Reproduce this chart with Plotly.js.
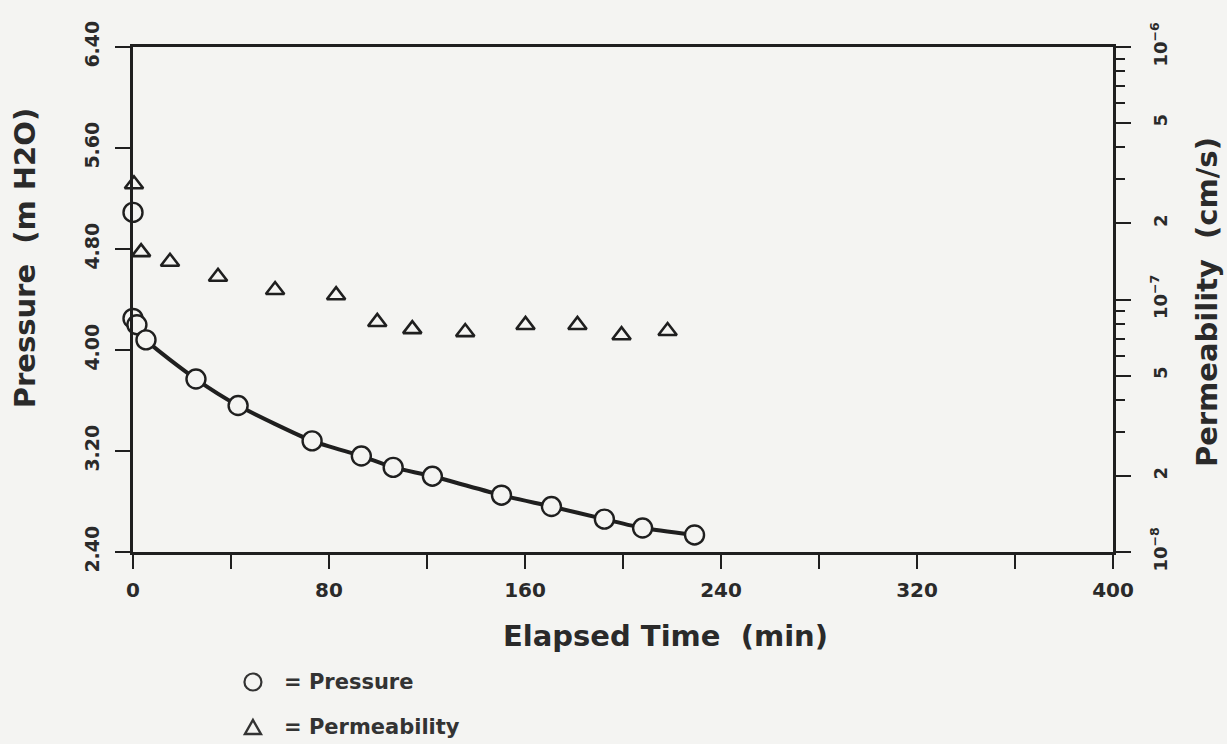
<!DOCTYPE html>
<html>
<head>
<meta charset="utf-8">
<script src="https://cdn.plot.ly/plotly-3.0.1.min.js"></script>
<style>html,body{margin:0;padding:0;background:#f4f4f2;}#chart{width:1227px;height:744px;}</style>
</head>
<body>
<div id="chart"></div>
<script>
// Elapsed time (min) and pressure (m H2O)
const pressureTime = [0, 0, 1.6, 5.3, 25.7, 42.9, 73.1, 93.2, 106.2, 122.2, 150.4, 170.8, 192.4, 208.0, 229.2];
const pressure     = [5.09, 4.25, 4.20, 4.08, 3.77, 3.56, 3.28, 3.16, 3.07, 3.00, 2.85, 2.76, 2.66, 2.59, 2.535];
// Elapsed time (min) and permeability (cm/s)
const permTime = [0.4, 3.3, 15.1, 34.7, 58.0, 82.9, 99.7, 114.0, 135.6, 160.2, 181.4, 199.4, 218.2];
const perm     = [2.86e-7, 1.54e-7, 1.41e-7, 1.23e-7, 1.09e-7, 1.04e-7, 8.15e-8, 7.63e-8, 7.43e-8, 7.93e-8, 7.93e-8, 7.22e-8, 7.50e-8];
// Right axis tick values / labels
const permTickVals = [1e-8, 2e-8, 5e-8, 1e-7, 2e-7, 5e-7, 1e-6];
const permTickText = ['10<sup>\u22128</sup>', '2', '5', '10<sup>\u22127</sup>', '2', '5', '10<sup>\u22126</sup>'];
const permMinorVals = [3e-8, 4e-8, 6e-8, 7e-8, 8e-8, 9e-8, 3e-7, 4e-7, 6e-7, 7e-7, 8e-7, 9e-7];
// Legend labels
const legendLabels = ['= Pressure', '= Permeability'];

const ink = '#1f1f1f';
const txt = '#2a2a2a';
const BG = '#f4f4f2';
const FONT = 'DejaVu Sans, Liberation Sans, sans-serif';

const traces = [
  { // fitted curve through the pressure points (excluding the first reading)
    x: pressureTime.slice(1), y: pressure.slice(1),
    type: 'scatter', mode: 'lines', yaxis: 'y',
    line: {color: ink, width: 4, shape: 'spline', smoothing: 0.6},
    showlegend: false, hoverinfo: 'skip', cliponaxis: false
  },
  {
    x: pressureTime, y: pressure, name: legendLabels[0],
    type: 'scatter', mode: 'markers', yaxis: 'y', showlegend: false,
    marker: {symbol: 'circle', size: 19, color: BG, line: {color: ink, width: 2.4}},
    cliponaxis: false
  },
  {
    x: permTime, y: perm, name: legendLabels[1],
    type: 'scatter', mode: 'markers', yaxis: 'y2', showlegend: false,
    marker: {symbol: 'triangle-up', size: 16, color: 'rgba(0,0,0,0)', line: {color: ink, width: 2.6}},
    cliponaxis: false
  }
];

// legend placement (paper coords)
const legX = 0.1224, legTextX = 0.152, legY1 = -0.2574, legY2 = -0.3465;
const rx = 8.5 / 980, ry = 8.5 / 505, tx = 8 / 980, ty = 7 / 505;

const layout = {
  width: 1227, height: 744,
  margin: {l: 133, r: 114, t: 47, b: 192},
  paper_bgcolor: BG, plot_bgcolor: BG,
  font: {family: FONT, color: ink, weight: 'bold'},
  showlegend: false,
  xaxis: {
    range: [0, 400], dtick: 80, tick0: 0,
    showline: true, linecolor: ink, linewidth: 3, mirror: true,
    ticks: 'outside', ticklen: 14, tickwidth: 2, tickcolor: ink,
    minor: {dtick: 40, tick0: 0, ticks: 'outside', ticklen: 14, tickwidth: 2, tickcolor: ink},
    showgrid: false, zeroline: false,
    tickfont: {size: 20, family: FONT, color: txt, weight: 'bold'},
    ticklabelstandoff: 4
  },
  yaxis: {
    range: [2.4, 6.4], dtick: 0.8, tick0: 2.4, tickformat: '.2f',
    showline: true, linecolor: ink, linewidth: 3,
    ticks: 'outside', ticklen: 15, tickwidth: 2, tickcolor: ink,
    showgrid: false, zeroline: false, tickangle: -90,
    tickfont: {size: 19, family: FONT, color: txt, weight: 'bold'},
    ticklabelstandoff: 8
  },
  yaxis2: {
    type: 'log', range: [-8, -6], overlaying: 'y', side: 'right',
    showline: true, linecolor: ink, linewidth: 3,
    tickmode: 'array', tickvals: permTickVals, ticktext: permTickText,
    ticks: 'outside', ticklen: 15, tickwidth: 2, tickcolor: ink,
    minor: {tickmode: 'array', tickvals: permMinorVals, ticks: 'outside', ticklen: 9, tickwidth: 2, tickcolor: ink},
    showgrid: false, zeroline: false, tickangle: -90,
    tickfont: {size: 18, family: FONT, color: txt, weight: 'bold'},
    ticklabelstandoff: 14
  },
  shapes: [
    {type: 'circle', xref: 'paper', yref: 'paper',
     x0: legX - rx, x1: legX + rx, y0: legY1 - ry, y1: legY1 + ry,
     line: {color: '#333', width: 2.2}, fillcolor: 'rgba(0,0,0,0)'},
    {type: 'path', xref: 'paper', yref: 'paper',
     path: 'M ' + (legX - tx) + ',' + (legY2 - ty) + ' L ' + (legX + tx) + ',' + (legY2 - ty) +
           ' L ' + legX + ',' + (legY2 + ty) + ' Z',
     line: {color: '#333', width: 2.4}, fillcolor: 'rgba(0,0,0,0)'}
  ],
  annotations: [
    {text: legendLabels[0], xref: 'paper', yref: 'paper', x: legTextX, y: legY1,
     xanchor: 'left', yanchor: 'middle', showarrow: false,
     font: {size: 21, family: FONT, color: '#333', weight: 'bold'}},
    {text: legendLabels[1], xref: 'paper', yref: 'paper', x: legTextX, y: legY2,
     xanchor: 'left', yanchor: 'middle', showarrow: false,
     font: {size: 21, family: FONT, color: '#333', weight: 'bold'}},
    {text: 'Elapsed Time\u00a0\u00a0(min)', xref: 'paper', yref: 'paper', x: 0.543, y: -0.166,
     xanchor: 'center', yanchor: 'middle', showarrow: false,
     font: {size: 29, family: FONT, color: txt, weight: 'bold'}},
    {text: 'Pressure\u00a0\u00a0(m H2O)', xref: 'paper', yref: 'paper', x: -0.110, y: 0.582,
     xanchor: 'center', yanchor: 'middle', showarrow: false, textangle: -90,
     font: {size: 29, family: FONT, color: txt, weight: 'bold'}},
    {text: 'Permeability\u00a0\u00a0(cm/s)', xref: 'paper', yref: 'paper', x: 1.096, y: 0.495,
     xanchor: 'center', yanchor: 'middle', showarrow: false, textangle: -90,
     font: {size: 29, family: FONT, color: txt, weight: 'bold'}}
  ]
};

Plotly.newPlot('chart', traces, layout, {displayModeBar: false, staticPlot: true});
</script>
</body>
</html>
